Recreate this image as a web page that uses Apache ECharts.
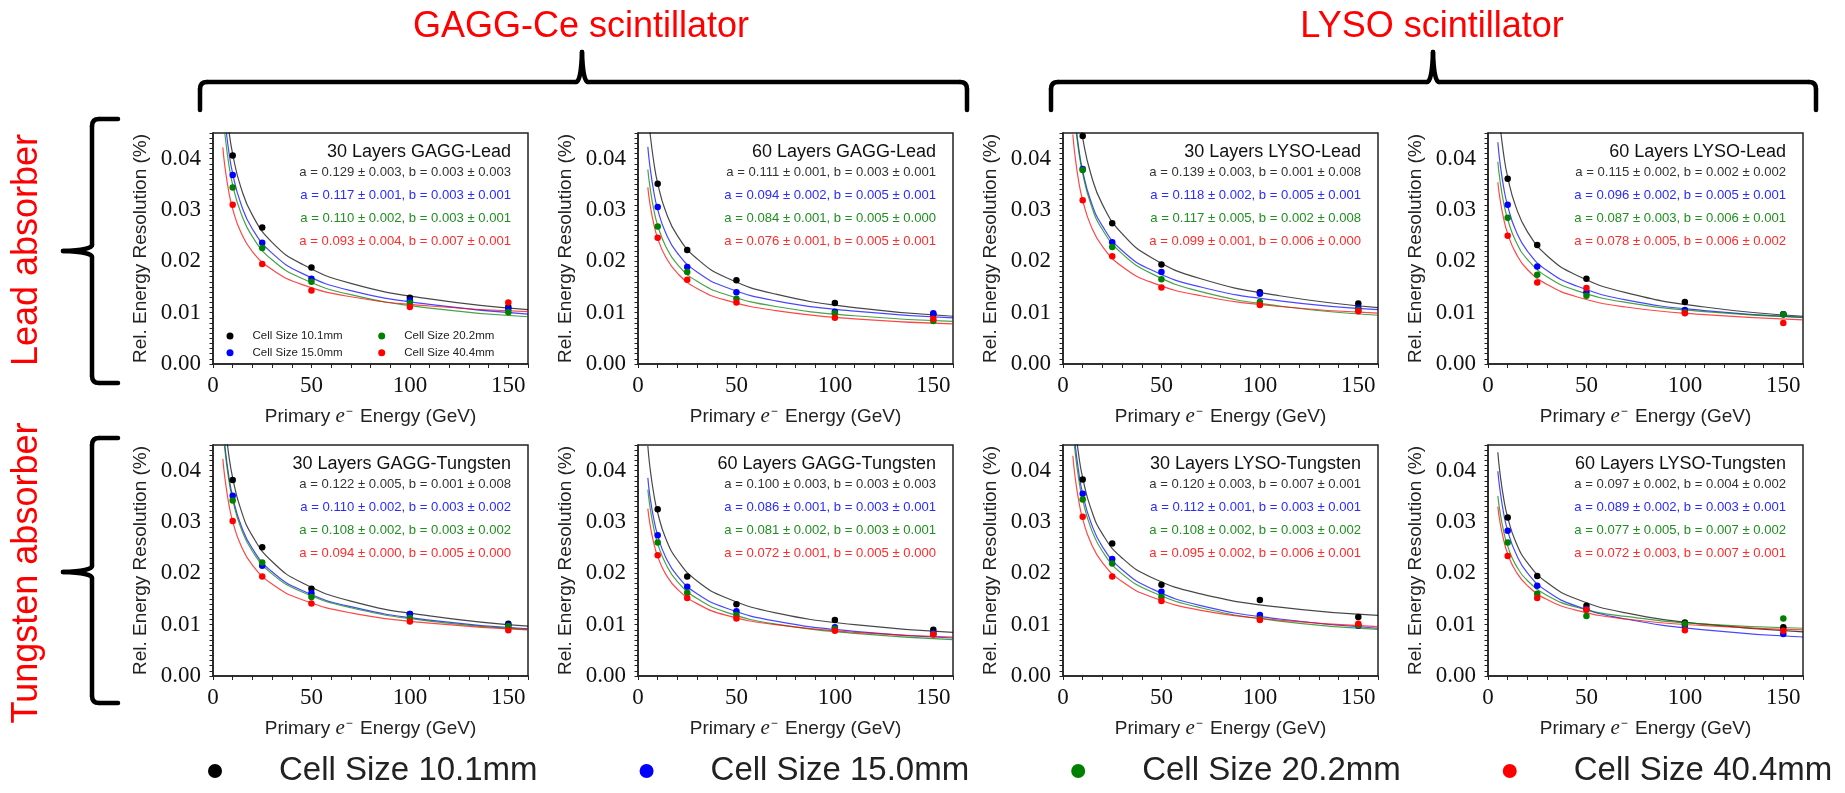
<!DOCTYPE html>
<html><head><meta charset="utf-8">
<script src="https://cdn.jsdelivr.net/npm/echarts@6.0.0/dist/echarts.min.js"></script>
<style>html,body{margin:0;padding:0;background:#fff}#c{width:1845px;height:793px}</style>
</head><body><div id="c"></div>
<script>
// ---------- data ----------
const cellSizes = ['Cell Size 10.1mm', 'Cell Size 15.0mm', 'Cell Size 20.2mm', 'Cell Size 40.4mm'];
const panelTitles = ['30 Layers GAGG-Lead', '60 Layers GAGG-Lead', '30 Layers LYSO-Lead', '60 Layers LYSO-Lead',
  '30 Layers GAGG-Tungsten', '60 Layers GAGG-Tungsten', '30 Layers LYSO-Tungsten', '60 Layers LYSO-Tungsten'];
const energies = [10, 25, 50, 100, 150];
const fitEnergies = [5, 6, 8, 10, 14, 20, 30, 45, 70, 110, 160];
const xTickLabels = [0, 50, 100, 150];
const yTickLabels = [0, 0.01, 0.02, 0.03, 0.04];

// measured points: rows = cell sizes (10.1, 15.0, 20.2, 40.4 mm), columns = energies
const meas30GaggLead = [[0.0406,0.0266,0.0188,0.0129,0.0111],[0.0368,0.0236,0.0166,0.0124,0.0107],[0.0344,0.0226,0.0160,0.0119,0.0101],[0.0310,0.0195,0.0143,0.0111,0.0120]];
const meas60GaggLead = [[0.0351,0.0222,0.0163,0.0119,0.0097],[0.0306,0.0189,0.0140,0.0102,0.0099],[0.0268,0.0179,0.0127,0.0099,0.0084],[0.0246,0.0164,0.0120,0.0090,0.0088]];
const meas30LysoLead = [[0.0444,0.0274,0.0194,0.0140,0.0118],[0.0380,0.0237,0.0179,0.0137,0.0109],[0.0378,0.0228,0.0165,0.0121,0.0105],[0.0319,0.0210,0.0149,0.0115,0.0103]];
const meas60LysoLead = [[0.0361,0.0232,0.0166,0.0121,0.0097],[0.0310,0.0190,0.0140,0.0105,0.0097],[0.0285,0.0174,0.0133,0.0101,0.0097],[0.0250,0.0159,0.0148,0.0099,0.0080]];
const meas30GaggW = [[0.0382,0.0251,0.0170,0.0121,0.0102],[0.0351,0.0215,0.0161,0.0121,0.0099],[0.0342,0.0221,0.0154,0.0113,0.0097],[0.0302,0.0194,0.0141,0.0106,0.0089]];
const meas60GaggW = [[0.0325,0.0194,0.0140,0.0109,0.0090],[0.0274,0.0174,0.0126,0.0095,0.0084],[0.0260,0.0162,0.0119,0.0092,0.0082],[0.0235,0.0152,0.0112,0.0088,0.0081]];
const meas30LysoW = [[0.0383,0.0258,0.0178,0.0148,0.0115],[0.0355,0.0228,0.0164,0.0119,0.0098],[0.0344,0.0219,0.0154,0.0111,0.0099],[0.0310,0.0194,0.0146,0.0109,0.0102]];
const meas60LysoW = [[0.0309,0.0195,0.0137,0.0104,0.0095],[0.0283,0.0176,0.0130,0.0098,0.0082],[0.0260,0.0160,0.0117,0.0102,0.0112],[0.0234,0.0152,0.0129,0.0089,0.0088]];

// fit curves read at fitEnergies
const fit30GaggLead = [[0.0578,0.0527,0.0457,0.0409,0.0346,0.0290,0.0237,0.0195,0.0157,0.0127,0.0106],[0.0524,0.0479,0.0415,0.0371,0.0314,0.0263,0.0216,0.0177,0.0143,0.0116,0.0097],[0.0493,0.0450,0.0390,0.0349,0.0296,0.0248,0.0203,0.0167,0.0135,0.0109,0.0092],[0.0422,0.0386,0.0336,0.0302,0.0258,0.0219,0.0184,0.0155,0.0131,0.0113,0.0102]];
const fit60GaggLead = [[0.0497,0.0454,0.0394,0.0352,0.0298,0.0250,0.0205,0.0168,0.0136,0.0110,0.0093],[0.0423,0.0387,0.0336,0.0301,0.0256,0.0216,0.0179,0.0149,0.0123,0.0103,0.0090],[0.0379,0.0347,0.0301,0.0270,0.0230,0.0194,0.0161,0.0135,0.0112,0.0094,0.0083],[0.0344,0.0314,0.0273,0.0245,0.0209,0.0177,0.0147,0.0124,0.0104,0.0088,0.0078]];
const fit30LysoLead = [[0.0622,0.0568,0.0492,0.0440,0.0372,0.0311,0.0254,0.0207,0.0166,0.0133,0.0110],[0.0530,0.0484,0.0420,0.0376,0.0319,0.0269,0.0221,0.0183,0.0150,0.0123,0.0106],[0.0524,0.0478,0.0414,0.0371,0.0313,0.0262,0.0215,0.0176,0.0141,0.0113,0.0095],[0.0447,0.0409,0.0355,0.0319,0.0271,0.0229,0.0190,0.0159,0.0133,0.0112,0.0099]];
const fit60LysoLead = [[0.0515,0.0470,0.0407,0.0364,0.0308,0.0258,0.0211,0.0173,0.0139,0.0111,0.0093],[0.0432,0.0395,0.0343,0.0308,0.0261,0.0220,0.0182,0.0152,0.0125,0.0104,0.0091],[0.0394,0.0360,0.0313,0.0282,0.0240,0.0204,0.0170,0.0143,0.0120,0.0102,0.0091],[0.0354,0.0324,0.0282,0.0254,0.0217,0.0184,0.0155,0.0131,0.0111,0.0096,0.0086]];
const fit30GaggW = [[0.0546,0.0498,0.0431,0.0386,0.0326,0.0273,0.0223,0.0182,0.0146,0.0117,0.0097],[0.0493,0.0450,0.0390,0.0349,0.0296,0.0248,0.0203,0.0167,0.0135,0.0109,0.0092],[0.0484,0.0442,0.0383,0.0343,0.0290,0.0243,0.0199,0.0164,0.0133,0.0107,0.0091],[0.0423,0.0387,0.0336,0.0301,0.0256,0.0216,0.0179,0.0149,0.0123,0.0103,0.0090]];
const fit60GaggW = [[0.0448,0.0409,0.0355,0.0318,0.0269,0.0226,0.0185,0.0152,0.0123,0.0100,0.0085],[0.0386,0.0352,0.0306,0.0274,0.0232,0.0195,0.0160,0.0132,0.0107,0.0087,0.0074],[0.0363,0.0332,0.0288,0.0258,0.0219,0.0184,0.0151,0.0124,0.0101,0.0083,0.0071],[0.0326,0.0298,0.0259,0.0233,0.0199,0.0169,0.0141,0.0118,0.0100,0.0085,0.0076]];
const fit30LysoW = [[0.0541,0.0495,0.0430,0.0386,0.0328,0.0277,0.0230,0.0192,0.0160,0.0134,0.0118],[0.0502,0.0458,0.0397,0.0355,0.0301,0.0252,0.0207,0.0170,0.0137,0.0111,0.0093],[0.0484,0.0442,0.0383,0.0343,0.0290,0.0243,0.0199,0.0164,0.0133,0.0107,0.0091],[0.0429,0.0392,0.0341,0.0306,0.0261,0.0221,0.0184,0.0154,0.0128,0.0109,0.0096]];
const fit60LysoW = [[0.0436,0.0398,0.0345,0.0309,0.0262,0.0221,0.0182,0.0150,0.0123,0.0101,0.0086],[0.0399,0.0365,0.0316,0.0283,0.0240,0.0201,0.0165,0.0136,0.0111,0.0090,0.0076],[0.0351,0.0322,0.0281,0.0253,0.0217,0.0186,0.0157,0.0134,0.0116,0.0101,0.0093],[0.0330,0.0302,0.0264,0.0238,0.0205,0.0176,0.0149,0.0128,0.0111,0.0098,0.0090]];

// fit parameters [a, a error, b, b error]
const par30GaggLead = [[0.129,0.003,0.003,0.003],[0.117,0.001,0.003,0.001],[0.110,0.002,0.003,0.001],[0.093,0.004,0.007,0.001]];
const par60GaggLead = [[0.111,0.001,0.003,0.001],[0.094,0.002,0.005,0.001],[0.084,0.001,0.005,0.000],[0.076,0.001,0.005,0.001]];
const par30LysoLead = [[0.139,0.003,0.001,0.008],[0.118,0.002,0.005,0.001],[0.117,0.005,0.002,0.008],[0.099,0.001,0.006,0.000]];
const par60LysoLead = [[0.115,0.002,0.002,0.002],[0.096,0.002,0.005,0.001],[0.087,0.003,0.006,0.001],[0.078,0.005,0.006,0.002]];
const par30GaggW = [[0.122,0.005,0.001,0.008],[0.110,0.002,0.003,0.002],[0.108,0.002,0.003,0.002],[0.094,0.000,0.005,0.000]];
const par60GaggW = [[0.100,0.003,0.003,0.003],[0.086,0.001,0.003,0.001],[0.081,0.002,0.003,0.001],[0.072,0.001,0.005,0.000]];
const par30LysoW = [[0.120,0.003,0.007,0.001],[0.112,0.001,0.003,0.001],[0.108,0.002,0.003,0.002],[0.095,0.002,0.006,0.001]];
const par60LysoW = [[0.097,0.002,0.004,0.002],[0.089,0.002,0.003,0.001],[0.077,0.005,0.007,0.002],[0.072,0.003,0.007,0.001]];

// ---------- layout / style ----------
const measAll = [meas30GaggLead, meas60GaggLead, meas30LysoLead, meas60LysoLead, meas30GaggW, meas60GaggW, meas30LysoW, meas60LysoW];
const fitAll = [fit30GaggLead, fit60GaggLead, fit30LysoLead, fit60LysoLead, fit30GaggW, fit60GaggW, fit30LysoW, fit60LysoW];
const parAll = [par30GaggLead, par60GaggLead, par30LysoLead, par60LysoLead, par30GaggW, par60GaggW, par30LysoW, par60LysoW];

const colors = ['#000000', '#0000ff', '#008000', '#ff0000'];
const textColors = ['#333333', '#2b2bff', '#1f8f1f', '#ff2b2b'];
const SERIF = "'Liberation Serif', 'DejaVu Serif', serif";
const SANS = "'Liberation Sans', Arial, sans-serif";
const colLeft = [213, 638, 1063, 1488];
const rowTop = [133, 445];
const W = 315, H = 231;
const annOffsets = [39, 62.3, 85.6, 108.8];

const option = {
  backgroundColor: '#ffffff',
  animation: false,
  grid: [], xAxis: [], yAxis: [], series: [], graphic: [],
  legend: [
    { data: cellSizes.slice(0, 2), orient: 'vertical', left: 226.5, top: 329, padding: 0, itemGap: 2.7,
      itemWidth: 7, itemHeight: 7, icon: 'circle', selectedMode: false,
      textStyle: { fontFamily: SANS, fontSize: 11.5, color: '#222', lineHeight: 14, padding: [0, 0, 0, 14] } },
    { data: cellSizes.slice(2), orient: 'vertical', left: 378.2, top: 329, padding: 0, itemGap: 2.7,
      itemWidth: 7, itemHeight: 7, icon: 'circle', selectedMode: false,
      textStyle: { fontFamily: SANS, fontSize: 11.5, color: '#222', lineHeight: 14, padding: [0, 0, 0, 14] } },
    { data: cellSizes, orient: 'horizontal', left: 208, top: 751, padding: 0, itemGap: 102,
      itemWidth: 14, itemHeight: 14, icon: 'circle', selectedMode: false,
      textStyle: { fontFamily: SANS, fontSize: 33, color: '#222', lineHeight: 40, padding: [0, 0, 0, 52] } }
  ]
};

function fmt(v) { return v.toFixed(3); }

for (let p = 0; p < 8; p++) {
  const left = colLeft[p % 4], top = rowTop[Math.floor(p / 4)];
  option.grid.push({ left: left, top: top, width: W, height: H, show: true, borderColor: '#222', borderWidth: 1.5, containLabel: false });
  option.xAxis.push({
    gridIndex: p, type: 'value', min: 0, max: 160, interval: 10,
    axisLine: { show: true, onZero: false, lineStyle: { color: '#222', width: 1.5 } },
    axisTick: { show: true, length: 4, lineStyle: { color: '#222', width: 1 } },
    splitLine: { show: false },
    axisLabel: { margin: 10, fontFamily: SERIF, fontSize: 23, color: '#111',
      formatter: v => xTickLabels.indexOf(Math.round(v)) >= 0 && Math.abs(v - Math.round(v)) < 1e-9 ? String(Math.round(v)) : '' },
    name: 'Primary {e|e}{s|−} Energy (GeV)', nameLocation: 'middle', nameGap: 42,
    nameTextStyle: { fontFamily: SANS, fontSize: 19, color: '#222',
      rich: { e: { fontFamily: SERIF, fontStyle: 'italic', fontSize: 21, color: '#222' },
              s: { fontFamily: SANS, fontSize: 12, color: '#222', verticalAlign: 'top', padding: [0, 2, 0, 1] } } }
  });
  option.yAxis.push({
    gridIndex: p, type: 'value', min: 0, max: 0.045, interval: 0.001,
    axisLine: { show: true, onZero: false, lineStyle: { color: '#222', width: 1.5 } },
    axisTick: { show: true, length: 3.5, lineStyle: { color: '#222', width: 1 } },
    splitLine: { show: false },
    axisLabel: { margin: 12, fontFamily: SERIF, fontSize: 23, color: '#111',
      formatter: v => yTickLabels.some(t => Math.abs(t - v) < 1e-7) ? v.toFixed(2) : '' },
    name: 'Rel. Energy Resolution (%)', nameLocation: 'middle', nameGap: 63,
    nameTextStyle: { fontFamily: SANS, fontSize: 19, color: '#222' }
  });
  for (let c = 0; c < 4; c++) {
    option.series.push({
      type: 'line', name: 'fit ' + cellSizes[c], xAxisIndex: p, yAxisIndex: p,
      data: fitEnergies.map((e, i) => [e, fitAll[p][c][i]]),
      smooth: 0.5, showSymbol: false, symbol: 'none', silent: true, clip: true,
      color: colors[c], lineStyle: { color: colors[c], width: 1.2, opacity: 0.72 }, z: 2
    });
  }
  for (let c = 0; c < 4; c++) {
    option.series.push({
      type: 'scatter', name: cellSizes[c], xAxisIndex: p, yAxisIndex: p,
      data: energies.map((e, i) => [e, measAll[p][c][i]]),
      symbolSize: 6.5, itemStyle: { color: colors[c], opacity: 1 }, z: 3, silent: true
    });
  }
  option.graphic.push({ type: 'text', silent: true, z: 10,
    style: { text: panelTitles[p], x: left + W - 17, y: top + 19, align: 'right', verticalAlign: 'middle',
      textAlign: 'right', textVerticalAlign: 'middle', fontFamily: SANS, fontSize: 18, fill: '#111' } });
  for (let c = 0; c < 4; c++) {
    const q = parAll[p][c];
    option.graphic.push({ type: 'text', silent: true, z: 10,
      style: { text: 'a = ' + fmt(q[0]) + ' ± ' + fmt(q[1]) + ', b = ' + fmt(q[2]) + ' ± ' + fmt(q[3]),
        x: left + W - 17, y: top + annOffsets[c], align: 'right', verticalAlign: 'middle',
        textAlign: 'right', textVerticalAlign: 'middle', fontFamily: SANS, fontSize: 13.1, fill: textColors[c] } });
  }
}

// braces built from line and quadratic-curve pieces
const braceStyle = { stroke: '#000', lineWidth: 4.5, lineCap: 'round', fill: 'none' };
function seg(x1, y1, x2, y2) {
  return { type: 'line', silent: true, shape: { x1: x1, y1: y1, x2: x2, y2: y2 }, style: braceStyle };
}
function quad(x1, y1, cx, cy, x2, y2) {
  return { type: 'bezierCurve', silent: true, shape: { x1: x1, y1: y1, cpx1: cx, cpy1: cy, x2: x2, y2: y2 }, style: braceStyle };
}
function hBrace(x1, x2, xm) {
  const yl = 82, yb = 110, yt = 52;
  return [seg(x1, yb, x1, yl + 7), quad(x1, yl + 7, x1, yl, x1 + 7, yl), seg(x1 + 7, yl, xm - 6, yl),
    quad(xm - 6, yl, xm - 1, yl, xm, yt), quad(xm, yt, xm + 1, yl, xm + 6, yl),
    seg(xm + 6, yl, x2 - 7, yl), quad(x2 - 7, yl, x2, yl, x2, yl + 7), seg(x2, yl + 7, x2, yb)];
}
function vBrace(y1, y2, ym) {
  const xl = 92, xb = 118, xt = 63;
  return [seg(xb, y1, xl + 7, y1), quad(xl + 7, y1, xl, y1, xl, y1 + 7), seg(xl, y1 + 7, xl, ym - 6),
    quad(xl, ym - 6, xl, ym - 1, xt, ym), quad(xt, ym, xl, ym + 1, xl, ym + 6),
    seg(xl, ym + 6, xl, y2 - 7), quad(xl, y2 - 7, xl, y2, xl + 7, y2), seg(xl + 7, y2, xb, y2)];
}
[].concat(hBrace(200, 967, 582), hBrace(1051, 1816, 1433), vBrace(119, 383, 251), vBrace(438, 703, 572))
  .forEach(el => option.graphic.push(el));

const groupLabels = [
  { text: 'GAGG-Ce scintillator', x: 581, y: 27, rot: 0 },
  { text: 'LYSO scintillator', x: 1432, y: 27, rot: 0 },
  { text: 'Lead absorber', x: 27, y: 250, rot: Math.PI / 2 },
  { text: 'Tungsten absorber', x: 27, y: 573, rot: Math.PI / 2 }
];
groupLabels.forEach(g => {
  option.graphic.push({ type: 'text', silent: true, x: g.x, y: g.y, rotation: g.rot,
    style: { text: g.text, x: 0, y: 0, align: 'center', verticalAlign: 'middle', textAlign: 'center', textVerticalAlign: 'middle',
      fontFamily: SANS, fontSize: 36, fill: '#ff0000' } });
});

const chart = echarts.init(document.getElementById('c'), null, { renderer: 'canvas' });
chart.setOption(option);
</script></body></html>
